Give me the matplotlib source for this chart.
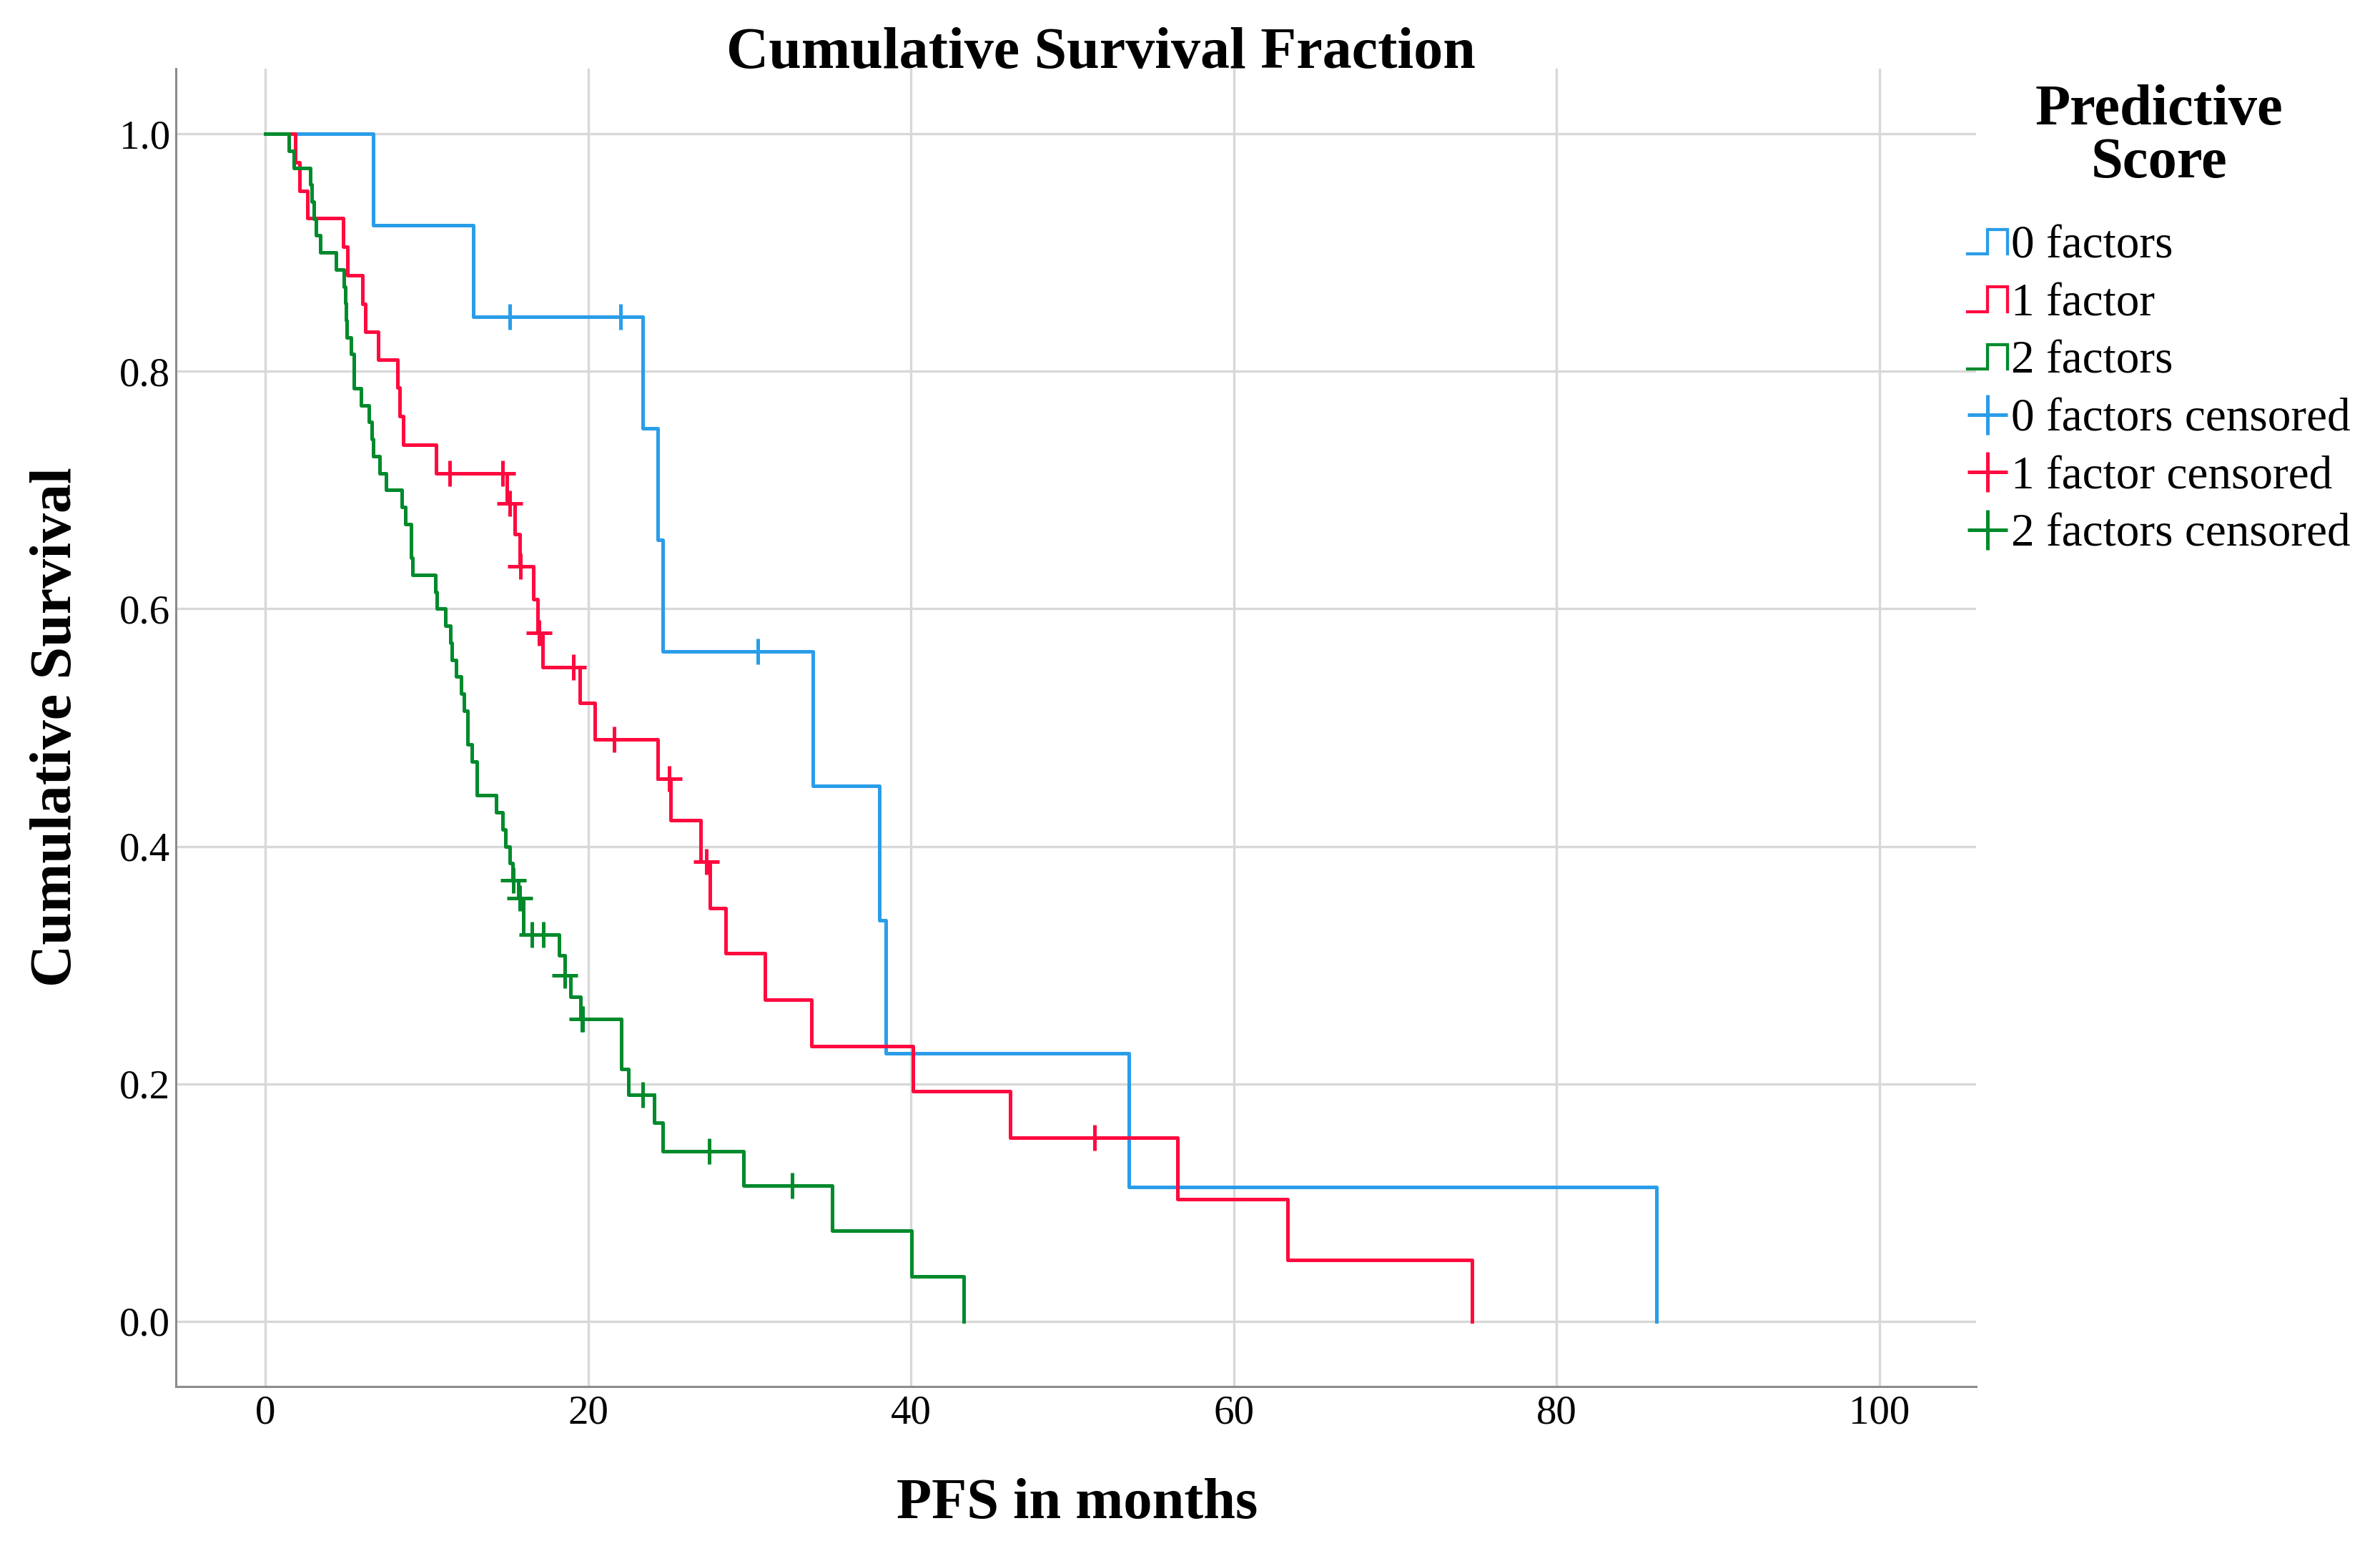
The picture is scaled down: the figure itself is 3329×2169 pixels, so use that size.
import matplotlib
matplotlib.use('Agg')
import matplotlib.pyplot as plt
import numpy as np
from matplotlib.legend_handler import HandlerBase
from matplotlib.lines import Line2D

plt.rcParams['font.family'] = ['Liberation Serif', 'DejaVu Serif']

# ---------------- data ----------------
group_labels = ["0 factors", "1 factor", "2 factors"]
censor_labels = ["0 factors censored", "1 factor censored", "2 factors censored"]
group_colors = ["#2a9de8", "#ff0a3f", "#008a2c"]

blue_t = [0, 6.66, 12.85, 23.38, 24.29, 24.61, 33.92, 38.03, 38.44, 53.49, 86.2]
blue_s = [1.0, 0.923, 0.846, 0.752, 0.658, 0.564, 0.451, 0.338, 0.226, 0.113, 0.0]
blue_cens = [15.15, 21.98, 30.51]

red_t = [0, 1.82, 2.12, 2.57, 4.79, 5.09, 6.01, 6.17, 6.96, 8.19, 8.29, 8.51,
         10.57, 14.97, 15.42, 15.77, 16.6, 16.86, 17.15, 19.47, 20.41, 24.28,
         25.09, 26.94, 27.54, 28.52, 30.96, 33.82, 40.14, 46.16, 56.5, 63.32, 74.76]
red_s = [1.0, 0.976, 0.952, 0.929, 0.905, 0.881, 0.857, 0.833, 0.810, 0.786, 0.762,
         0.738, 0.714, 0.689, 0.663, 0.636, 0.608, 0.580, 0.551, 0.521, 0.490,
         0.457, 0.422, 0.387, 0.348, 0.310, 0.271, 0.232, 0.194, 0.155, 0.103,
         0.052, 0.0]
red_cens = [11.41, 14.68, 15.11, 15.8, 16.96, 19.07, 21.58, 24.99, 27.3, 51.38]

green_t = [0, 1.43, 1.73, 2.75, 2.85, 3.01, 3.11, 3.40, 4.36, 4.83, 4.92, 4.98,
           5.05, 5.28, 5.48, 5.93, 6.41, 6.57, 6.66, 7.06, 7.46, 8.45, 8.64, 9.0,
           9.10, 10.53, 10.63, 11.16, 11.45, 11.55, 11.81, 12.10, 12.30, 12.50,
           12.80, 13.10, 14.28, 14.68, 14.87, 15.13, 15.31, 15.66, 15.96, 18.19,
           18.54, 18.90, 19.52, 22.06, 22.48, 24.08, 24.59, 29.6, 35.12, 40.04, 43.25]
green_s = [1.0, 0.9857, 0.9714, 0.9571, 0.9429, 0.9286, 0.9143, 0.9, 0.8857,
           0.8714, 0.8571, 0.8429, 0.8286, 0.8143, 0.7857, 0.7714, 0.7571, 0.7429,
           0.7286, 0.7143, 0.7, 0.6857, 0.6714, 0.6429, 0.6286, 0.6143, 0.6,
           0.5857, 0.5714, 0.5571, 0.5429, 0.5286, 0.5143, 0.4857, 0.4714, 0.4429,
           0.4286, 0.4143, 0.4, 0.3857, 0.3714, 0.3566, 0.3255, 0.3084, 0.2913,
           0.2731, 0.2549, 0.2124, 0.1911, 0.1672, 0.1433, 0.1146, 0.0764, 0.0382, 0.0]
green_cens = [15.35, 15.76, 16.5, 17.21, 18.56, 19.60, 19.66, 23.38, 27.5, 32.62]

x_ticks = [0, 20, 40, 60, 80, 100]
y_ticks = [0.0, 0.2, 0.4, 0.6, 0.8, 1.0]

# ---------------- figure ----------------
W, H = 3330, 2169
fig = plt.figure(figsize=(W / 100, H / 100), dpi=100)
ax = fig.add_axes([246 / W, 1 - 1939 / H, (2764 - 246) / W, (1939 - 96) / H])
ax.set_xlim(-5.56, 106.0)
ax.set_ylim(-0.0548, 1.0548)

ax.set_xticks(x_ticks)
ax.set_xticklabels([str(v) for v in x_ticks])
ax.set_yticks(y_ticks)
ax.set_yticklabels([f"{v:.1f}" for v in y_ticks])
ax.tick_params(length=0, labelsize=41, colors='black')
ax.tick_params(axis='y', pad=6)
ax.tick_params(axis='x', pad=8)
ax.grid(True, color='#d8d8d8', lw=2.4)
ax.set_axisbelow(True)
for s in ['top', 'right']:
    ax.spines[s].set_visible(False)
for s in ['left', 'bottom']:
    ax.spines[s].set_color('#8c8c8c')
    ax.spines[s].set_linewidth(2.2)

LW = 3.6
series = [(blue_t, blue_s, blue_cens), (red_t, red_s, red_cens), (green_t, green_s, green_cens)]
for (t, s, c), col in zip(series, group_colors):
    ax.step(t, s, where='post', color=col, lw=LW, zorder=3)
    t_arr = np.asarray(t)
    s_arr = np.asarray(s)
    idx = np.searchsorted(t_arr, np.asarray(c), side='right') - 1
    ax.plot(c, s_arr[idx], linestyle='None', marker='+', ms=26, mew=LW,
            color=col, zorder=4)

fig.text(1540 / W, 1 - 75 / H, "Cumulative Survival Fraction", ha='center', va='center',
         fontsize=59, fontweight='bold')
fig.text(80 / W, 1 - 1017 / H, "Cumulative Survival", ha='center', va='center',
         rotation=90, fontsize=59, fontweight='bold')
fig.text(1507 / W, 1 - 2103 / H, "PFS in months", ha='center', va='center',
         fontsize=58, fontweight='bold')


class StepHandler(HandlerBase):
    def create_artists(self, legend, orig_handle, xdescent, ydescent, width, height,
                       fontsize, trans):
        x0, y0 = -xdescent, -ydescent
        xs = np.array([0, 0.5, 0.5, 1.0, 1.0]) * width + x0
        ys = np.array([0.12, 0.12, 0.88, 0.88, 0.12]) * height + y0
        ln = Line2D(xs, ys, color=orig_handle.get_color(),
                    lw=orig_handle.get_linewidth(), solid_joinstyle='miter')
        ln.set_transform(trans)
        return [ln]


step_handles = [Line2D([], [], color=c, lw=LW * 0.85) for c in group_colors]
cens_handles = [Line2D([], [], color=c, marker='+', ms=41, mew=LW, linestyle='None')
                for c in group_colors]
hmap = {h: StepHandler() for h in step_handles}
leg = fig.legend(step_handles + cens_handles, group_labels + censor_labels,
                 loc='upper left', bbox_to_anchor=(2752 / W, 1 - 118 / H),
                 frameon=False, fontsize=47, title="Predictive\nScore",
                 title_fontproperties={'weight': 'bold', 'size': 58},
                 handlelength=0.86, handletextpad=0.08, labelspacing=0.32,
                 borderpad=0, borderaxespad=0, handler_map=hmap,
                 alignment='center')
leg.get_title().set_linespacing(1.02)
leg.get_title().set_multialignment('center')
leg._legend_box.sep = 36

fig.savefig("out.png", dpi=100)
